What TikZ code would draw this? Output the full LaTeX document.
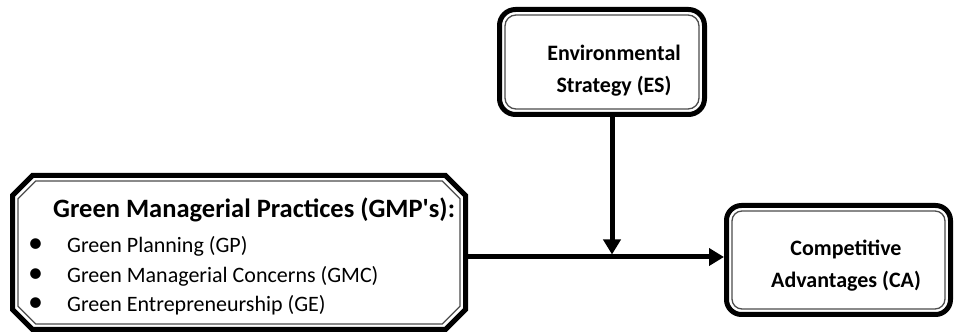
\documentclass[tikz,border=0pt]{standalone}
\usepackage{fontspec}
\setmainfont{Carlito}
\usetikzlibrary{arrows.meta,calc}
\begin{document}
\begin{tikzpicture}[x=1pt,y=1pt,
  outerframe/.style={draw=black, line width=5pt, outer sep=0pt, inner sep=0pt},
  innerframe/.style={draw=black!70, line width=1.3pt, inner sep=0pt},
  link/.style={draw=black, line width=5pt, -{Triangle[length=15pt 0, width=17pt 0]}},
  boxtext/.style={font=\bfseries\fontsize{22}{32}\selectfont, align=center, inner sep=0pt},
  titletext/.style={font=\bfseries\fontsize{26.5}{30}\selectfont, anchor=base west, inner sep=0pt},
  itemtext/.style={font=\fontsize{22}{26}\selectfont, anchor=base west, inner sep=0pt},
  bullettext/.style={font=\fontsize{30}{30}\selectfont, anchor=base west, inner sep=0pt},
]
\useasboundingbox (0,0) rectangle (959,334);

% Environmental Strategy box (rounded, thick outer + thin inner line)
\node[outerframe, rounded corners=16pt, minimum width=205pt, minimum height=105pt] (es) at (602,272) {};
\node[innerframe, rounded corners=11pt, minimum width=194pt, minimum height=94pt] (es-in) at (es.center) {};
\node[boxtext] (es-text) at (614,263) {Environmental\\Strategy (ES)};

% Competitive Advantages box
\node[outerframe, rounded corners=15pt, minimum width=224pt, minimum height=109pt] (ca) at (838.5,74) {};
\node[innerframe, rounded corners=10pt, minimum width=213pt, minimum height=98pt] (ca-in) at (ca.center) {};
\node[boxtext] (ca-text) at (846,68) {Competitive\\Advantages (CA)};

% Green Managerial Practices box (chamfered corners)
\node[outer sep=0pt, inner sep=0pt, minimum width=453pt, minimum height=154pt] (gmp) at (239,81.5) {};
\draw[line width=5pt] let \p1=(gmp.south west), \p2=(gmp.north east) in
  (\x1+20pt,\y2) -- (\x2-20pt,\y2) -- (\x2,\y2-20pt) -- (\x2,\y1+20pt)
  -- (\x2-20pt,\y1) -- (\x1+20pt,\y1) -- (\x1,\y1+20pt) -- (\x1,\y2-20pt) -- cycle;
\draw[draw=black!70, line width=1.3pt] let \p1=($(gmp.south west)+(5.5pt,5.5pt)$), \p2=($(gmp.north east)-(5.5pt,5.5pt)$) in
  (\x1+17.7pt,\y2) -- (\x2-17.7pt,\y2) -- (\x2,\y2-17.7pt) -- (\x2,\y1+17.7pt)
  -- (\x2-17.7pt,\y1) -- (\x1+17.7pt,\y1) -- (\x1,\y1+17.7pt) -- (\x1,\y2-17.7pt) -- cycle;

\node[titletext] (gmp-title) at (53,116) {Green Managerial Practices (GMP\textquotesingle s):};
\node[bullettext] (b1) at (28,81) {•};
\node[itemtext] (i1) at (67,81) {Green Planning (GP)};
\node[bullettext] (b2) at (28,51.5) {•};
\node[itemtext] (i2) at (67,51.5) {Green Managerial Concerns (GMC)};
\node[bullettext] (b3) at (28,22) {•};
\node[itemtext] (i3) at (67,22) {Green Entrepreneurship (GE)};

% Connectors
\coordinate (junction) at (612,77);
\draw[link, shorten >=2.5pt] (gmp.east |- junction) -- (ca.west |- junction);
\draw[link, shorten >=2.5pt] (es.south -| junction) -- (junction);
\end{tikzpicture}
\end{document}
